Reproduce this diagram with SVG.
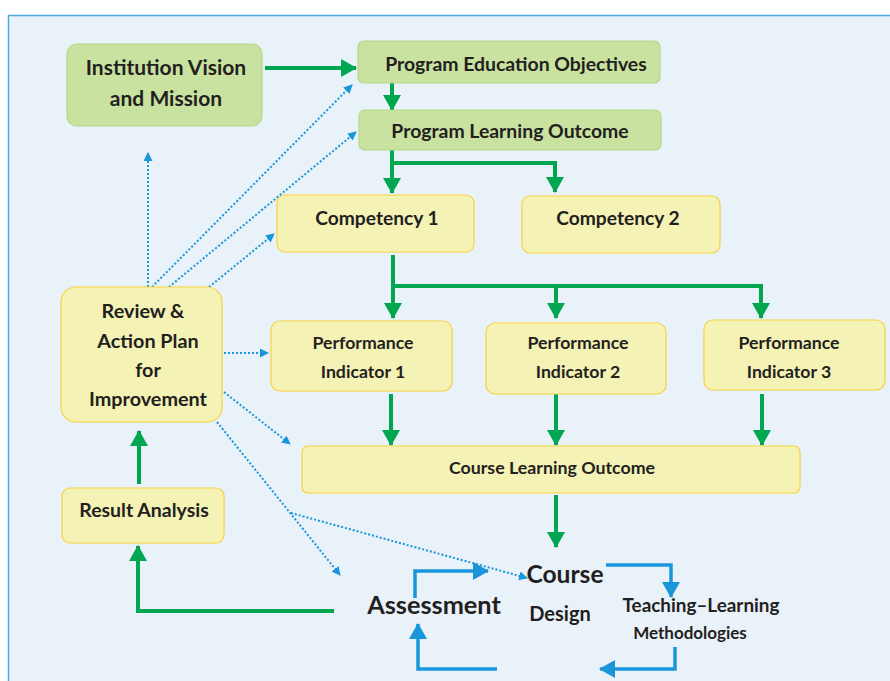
<svg xmlns="http://www.w3.org/2000/svg" width="890" height="681" viewBox="0 0 890 681">
<defs>
<style>
.t{font-family:Lato,"Open Sans","Liberation Sans",sans-serif;font-weight:bold;fill:#231F20;text-anchor:middle}
.g{fill:#C9E2A0;stroke:#B4D98A;stroke-width:1.2}
.y{fill:#F4F2B4;stroke:#F7D33E;stroke-width:1.2}
.gc{fill:none;stroke:#00A650;stroke-width:4}
.bc{fill:none;stroke:#1996DA;stroke-width:3.5}
.dc{fill:none;stroke:#1996DA;stroke-width:2;stroke-dasharray:2 2}
</style>
<marker id="ga" markerUnits="userSpaceOnUse" markerWidth="16" markerHeight="18" refX="15" refY="9" orient="auto" viewBox="0 0 16 18"><path d="M0,0L16,9L0,18z" fill="#00A650"/></marker>
<marker id="ba" markerUnits="userSpaceOnUse" markerWidth="16" markerHeight="18" refX="15" refY="9" orient="auto" viewBox="0 0 16 18"><path d="M0,0L16,9L0,18z" fill="#1996DA"/></marker>
<marker id="da" markerUnits="userSpaceOnUse" markerWidth="9" markerHeight="9" refX="8" refY="4.5" orient="auto" viewBox="0 0 9 9"><path d="M0,0L9,4.5L0,9z" fill="#1996DA"/></marker>
</defs>
<rect width="890" height="681" fill="#FFFFFF"/>
<rect x="8.5" y="15.5" width="890" height="680" fill="#E9F1F9" stroke="#4EAAE0" stroke-width="1.5"/>

<g id="connectors">
<path class="gc" d="M265,68H356" marker-end="url(#ga)"/>
<path class="gc" d="M392,83V110" marker-end="url(#ga)"/>
<path class="gc" d="M392,150V193M392,163H555V192" marker-end="url(#ga)"/>
<path class="gc" d="M392,163V193" marker-end="url(#ga)"/>
<path class="gc" d="M393,255V318" marker-end="url(#ga)"/>
<path class="gc" d="M393,286H556V318" marker-end="url(#ga)"/>
<path class="gc" d="M556,286H761V318" marker-end="url(#ga)"/>
<path class="gc" d="M391,394V445" marker-end="url(#ga)"/>
<path class="gc" d="M556,394V445" marker-end="url(#ga)"/>
<path class="gc" d="M762,394V445" marker-end="url(#ga)"/>
<path class="gc" d="M556,495V547" marker-end="url(#ga)"/>
<path class="gc" d="M334,611H138V546" marker-end="url(#ga)"/>
<path class="gc" d="M139,484V431" marker-end="url(#ga)"/>
<path class="bc" d="M415,598V571H488" marker-end="url(#ba)"/>
<path class="bc" d="M606,565H671V597" marker-end="url(#ba)"/>
<path class="bc" d="M675,647V669H600" marker-end="url(#ba)"/>
<path class="bc" d="M497,669H418V624" marker-end="url(#ba)"/>
<path class="dc" d="M148,287V153" marker-end="url(#da)"/>
<path class="dc" d="M152,287L352,85" marker-end="url(#da)"/>
<path class="dc" d="M169,287L356,132" marker-end="url(#da)"/>
<path class="dc" d="M209,287L274,234" marker-end="url(#da)"/>
<path class="dc" d="M224,353H268" marker-end="url(#da)"/>
<path class="dc" d="M224,392L290,444" marker-end="url(#da)"/>
<path class="dc" d="M217,422L340,575" marker-end="url(#da)"/>
<path class="dc" d="M291,513L527,578" marker-end="url(#da)"/>
</g>

<g id="vision"><rect class="g" x="67" y="44" width="195" height="82" rx="10"/>
<text class="t" x="166" y="75" font-size="21">Institution Vision</text>
<text class="t" x="166" y="106" font-size="21">and Mission</text></g>

<g id="peo"><rect class="g" x="358" y="41" width="302" height="42" rx="6"/>
<text class="t" x="516" y="71" font-size="19.4">Program Education Objectives</text></g>

<g id="plo"><rect class="g" x="359" y="110" width="302" height="40" rx="6"/>
<text class="t" x="510" y="138" font-size="19.4">Program Learning Outcome</text></g>

<g id="comp1"><rect class="y" x="277" y="195" width="197" height="57" rx="8"/>
<text class="t" x="377" y="225" font-size="19.2">Competency 1</text></g>

<g id="comp2"><rect class="y" x="522" y="196" width="198" height="57" rx="8"/>
<text class="t" x="618" y="225" font-size="19.2">Competency 2</text></g>

<g id="pi1"><rect class="y" x="271" y="321" width="181" height="70" rx="9"/>
<text class="t" x="363" y="349" font-size="17.7">Performance</text>
<text class="t" x="363" y="378" font-size="17.7">Indicator 1</text></g>

<g id="pi2"><rect class="y" x="486" y="323" width="180" height="71" rx="9"/>
<text class="t" x="578" y="349" font-size="17.7">Performance</text>
<text class="t" x="578" y="378" font-size="17.7">Indicator 2</text></g>

<g id="pi3"><rect class="y" x="704" y="320" width="181" height="70" rx="9"/>
<text class="t" x="789" y="349" font-size="17.7">Performance</text>
<text class="t" x="789" y="378" font-size="17.7">Indicator 3</text></g>

<g id="clo"><rect class="y" x="302" y="446" width="498" height="47" rx="6"/>
<text class="t" x="552" y="474" font-size="17.8">Course Learning Outcome</text></g>

<g id="review"><rect class="y" x="61" y="287" width="161" height="135" rx="15"/>
<text class="t" x="143" y="318" font-size="19.8">Review &amp;</text>
<text class="t" x="148" y="348" font-size="19.8">Action Plan</text>
<text class="t" x="148" y="377" font-size="19.8">for</text>
<text class="t" x="148" y="406" font-size="19.8">Improvement</text></g>

<g id="result"><rect class="y" x="62" y="488" width="162" height="55" rx="8"/>
<text class="t" x="144" y="517" font-size="19.5">Result Analysis</text></g>

<g id="course"><text class="t" x="565" y="583" font-size="24.6">Course</text>
<text class="t" x="560" y="621" font-size="20">Design</text></g>

<g id="assessment"><text class="t" x="434" y="614" font-size="25.3">Assessment</text></g>

<g id="tlm"><text class="t" x="701" y="612" font-size="18.9">Teaching–Learning</text>
<text class="t" x="690" y="639" font-size="17">Methodologies</text></g>
</svg>
